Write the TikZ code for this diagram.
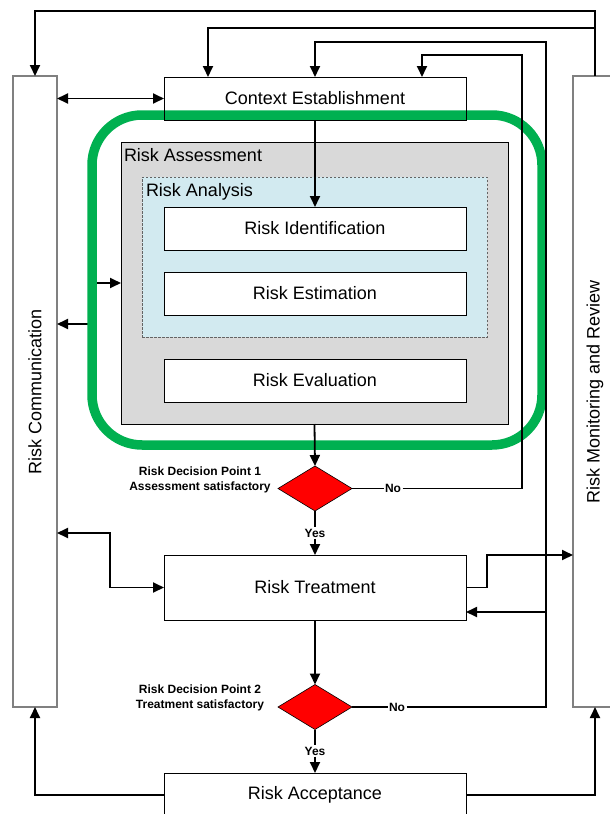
\documentclass[tikz,border=0pt]{standalone}
\usepackage{fontspec}
\setmainfont{Liberation Sans}
\usetikzlibrary{arrows.meta,shapes.geometric,calc}
\definecolor{grn}{RGB}{0,176,80}
\definecolor{asgray}{RGB}{217,217,217}
\definecolor{anblue}{RGB}{210,234,240}
\definecolor{sidegray}{RGB}{128,128,128}
\definecolor{dashgray}{RGB}{100,100,100}
\definecolor{decred}{RGB}{255,0,0}
\begin{document}
\begin{tikzpicture}[x=1pt,y=-1pt,
  every node/.style={inner sep=0pt, outer sep=0pt},
  box/.style={draw=black, line width=0.9pt, minimum width=302pt, font=\fontsize{18}{21}\selectfont},
  side/.style={draw=sidegray, line width=1.2pt, fill=white, minimum width=44pt, minimum height=631pt, font=\fontsize{18}{21}\selectfont},
  conn/.style={line width=1.8pt},
  arr/.style={conn, -{Triangle[length=11pt,width=10pt]}},
  dbl/.style={conn, {Triangle[length=11pt,width=10pt]}-{Triangle[length=11pt,width=10pt]}},
  dec/.style={diamond, draw=black, line width=0.6pt, fill=decred, minimum width=74pt, minimum height=45pt},
  lbl/.style={font=\fontsize{12}{15}\selectfont\bfseries, align=center},
  yn/.style={font=\fontsize{12}{14}\selectfont\bfseries, fill=white, inner sep=1.5pt},
  title/.style={font=\fontsize{18}{21}\selectfont, anchor=base west},
]
\useasboundingbox (0,0) rectangle (610,814);

% side boxes
\node[side] (comm) at (35,391.5) {\rotatebox{90}{Risk Communication}};
\node[side] (mon) at (595,391.5) {\rotatebox{90}{Risk Monitoring and Review}};

% assessment block
\node[draw=black, line width=0.8pt, fill=asgray, minimum width=387pt, minimum height=282pt] (asm) at (314.5,283) {};
\node[title] (asmlbl) at (124,161) {Risk Assessment};
\node[draw=dashgray, dash pattern=on 2.5pt off 1.5pt, line width=0.8pt, fill=anblue, minimum width=345pt, minimum height=160pt] (ana) at (314.5,257) {};
\node[title] (analbl) at (146,196) {Risk Analysis};
\node[box, fill=white, minimum height=43pt] (ident) at (315,228.5) {Risk Identification};
\node[box, fill=white, minimum height=43pt] (estim) at (315,293.5) {Risk Estimation};
\node[box, fill=white, minimum height=43pt] (evalb) at (315,380.5) {Risk Evaluation};

% arrows at the green frame
\coordinate (ga) at (92,283);
\coordinate (gb) at (92,324);
\draw[arr] (ga) -- (ga -| asm.west);
\draw[arr] (gb) -- (gb -| comm.east);

% green frame
\node[draw=grn, line width=9.5pt, rounded corners=50pt, minimum width=450pt, minimum height=330pt] (green) at (317,280) {};

% context
\node[box, minimum height=43pt] (ctx) at (315,98.5) {Context Establishment};

% decisions and other boxes
\node[dec] (d1) at (315,488.5) {};
\node[dec] (d2) at (315,707) {};
\node[box, fill=white, minimum height=65pt] (treat) at (315,587.5) {Risk Treatment};
\node[box, fill=white, minimum height=44pt] (acc) at (315,795) {Risk Acceptance};

\node[lbl] (l1) at (200,480) {Risk Decision Point 1\\Assessment satisfactory};
\node[lbl] (l2) at (200,698) {Risk Decision Point 2\\Treatment satisfactory};
\node[yn] (y1) at (315,533) {Yes};
\node[yn] (y2) at (315,751) {Yes};
\node[yn] (n1) at (393,488.5) {No};
\node[yn] (n2) at (397,707) {No};

% main flow
\draw[arr] (ctx.south) -- (ident.north);
\draw[arr] (asm.south) -- (d1.north);
\draw[conn] (d1.south) -- (y1.north);
\draw[arr] (y1.south) -- (treat.north);
\draw[arr] (treat.south) -- (d2.north);
\draw[conn] (d2.south) -- (y2.north);
\draw[arr] (y2.south) -- (acc.north);

% No loops
\draw[conn] (d1.east) -- (n1.west);
\draw[conn] (d2.east) -- (n2.west);
\coordinate (r4) at (522,55);
\draw[arr] (n1.east) -| (r4) -| ([xshift=107pt]ctx.north);
\coordinate (r3) at (546,42);
\draw[arr] (n2.east) -| (r3) -| (ctx.north);
\coordinate (r3b) at (546,612);
\draw[arr] (r3b) -- (r3b -| treat.east);

% treatment to monitoring
\coordinate (t1) at (487,555);
\draw[arr] (treat.east) -| (t1) -- (t1 -| mon.west);

% communication links
\coordinate (c1) at (110,533);
\draw[dbl] (c1 -| comm.east) -- (c1) |- (treat.west);
\draw[dbl] (comm.east |- ctx.west) -- (ctx.west);

% top loops from monitoring
\coordinate (top1) at (0,11);
\coordinate (top2) at (0,28);
\draw[arr] (mon.north) -- (mon.north |- top1) -| (comm.north);
\draw[arr] (mon.north |- top2) -| ([xshift=-107pt]ctx.north);

% bottom from acceptance
\draw[arr] (acc.west) -| (comm.south);
\draw[arr] (acc.east) -| (mon.south);
\end{tikzpicture}
\end{document}
